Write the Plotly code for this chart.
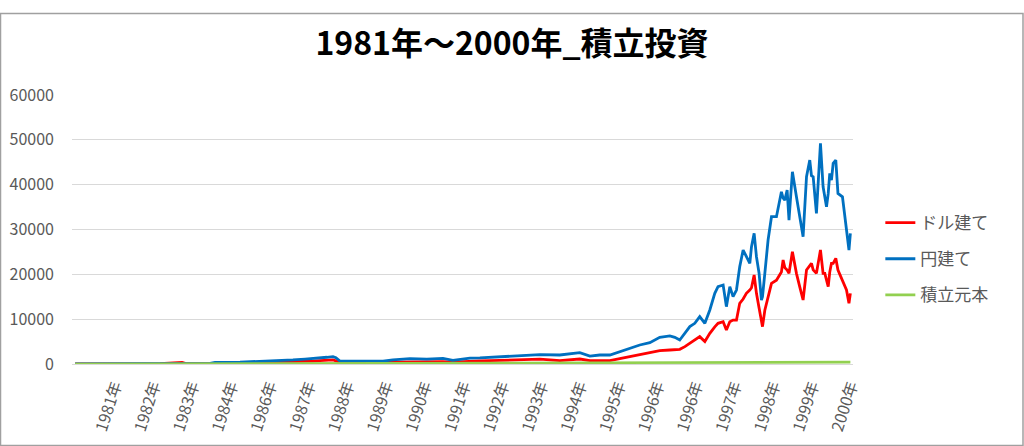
import plotly.graph_objects as go

# observation index (trading-day count) for the two valuation series
obs_idx = [0, 161, 355, 548, 690, 716, 871, 903, 1064, 1226, 1322, 1406, 1484, 1535, 1580,
           1625, 1664, 1683, 1709, 1838, 1987, 2051, 2161, 2270, 2374, 2438, 2548, 2612, 2741,
           2870, 2999, 3128, 3193, 3257, 3322, 3386, 3451, 3515, 3580, 3644, 3709, 3773, 3838,
           3870, 3902, 3935, 3967, 3999, 4031, 4064, 4096, 4128, 4149, 4182, 4203, 4225, 4246,
           4268, 4289, 4311, 4332, 4354, 4365, 4382, 4397, 4414, 4429, 4436, 4451, 4472, 4494,
           4526, 4558, 4569, 4580, 4595, 4607, 4629, 4655, 4676, 4698, 4720, 4741, 4752, 4763,
           4784, 4810, 4827, 4838, 4849, 4860, 4870, 4881, 4892, 4909, 4923, 4952, 4967, 4978,
           4994, 5003]

yen_values = [50, 60, 80, 100, 150, 120, 150, 380, 420, 650, 750, 900, 1100, 1200, 1350,
              1500, 1650, 1400, 650, 600, 620, 900, 1200, 1100, 1250, 800, 1300, 1350, 1600,
              1700, 2100, 2007, 2230, 2530, 1780, 2007, 2007, 2750, 3490, 4240, 4760, 5950, 6250,
              5950, 5350, 6840, 8330, 9070, 10560, 9070, 12050, 15760, 17250, 17620, 12790, 17250, 15020,
              16500, 21700, 25420, 23930, 22450, 26160, 29140, 23930, 20220, 14270, 15000, 20220, 27650, 32850,
              32850, 38420, 37000, 36560, 38790, 32100, 42880, 37300, 32850, 28400, 41760, 45480, 42000, 41760,
              33600, 49200, 39530, 37000, 35070, 38000, 42510, 41000, 44740, 45480, 38050, 37300, 32850, 29880,
              25420, 29140]

usd_values = [30, 40, 50, 60, 350, 80, 80, 150, 200, 300, 350, 450, 600, 650, 750,
              850, 900, 700, 400, 380, 400, 450, 550, 500, 550, 400, 650, 700, 800,
              900, 1100, 740, 890, 1110, 740, 740, 740, 1190, 1640, 2010, 2380, 2980, 3120,
              3120, 3270, 3870, 4610, 5350, 6100, 5000, 6840, 8300, 9070, 9440, 7580, 9440, 9800,
              9800, 13530, 14500, 15760, 16500, 17000, 19850, 15760, 12500, 9500, 8330, 12000, 15020, 17990,
              18700, 20500, 23190, 21500, 20960, 20220, 25050, 20220, 17250, 14270, 20960, 22000, 22450, 21000,
              20220, 25420, 20220, 20220, 18500, 17250, 20500, 22450, 22450, 23560, 20960, 18500, 17250, 16500,
              13530, 15760]

# principal (積立元本)
principal_idx = [0, 500, 1000, 1500, 2000, 2500, 3000, 3500, 4000, 4500, 5003]
principal_values = [10, 50, 90, 130, 170, 210, 250, 290, 330, 370, 410]

tick_labels = ["1981年", "1982年", "1983年", "1984年", "1986年", "1987年", "1988年", "1989年",
               "1990年", "1991年", "1992年", "1993年", "1994年", "1995年", "1996年", "1996年",
               "1997年", "1998年", "1999年", "2000年"]
tick_idx = [255 + 250 * k for k in range(len(tick_labels))]

FONT = "Noto Sans CJK JP"
GRAY = "#595959"

fig = go.Figure()
fig.add_trace(go.Scatter(x=obs_idx, y=usd_values, mode="lines", name="ドル建て", legendgroup="a",
                         line=dict(color="#ff0000", width=2.8)))
fig.add_trace(go.Scatter(x=obs_idx, y=yen_values, mode="lines", name="円建て", legendgroup="b",
                         line=dict(color="#0070c0", width=2.8)))
fig.add_trace(go.Scatter(x=principal_idx, y=principal_values, mode="lines", name="積立元本",
                         legendgroup="c", line=dict(color="#92d050", width=2.6)))

fig.update_layout(
    width=1024, height=446,
    margin=dict(l=72, r=171, t=95, b=82, autoexpand=False),
    paper_bgcolor="white", plot_bgcolor="white",
    font=dict(family=FONT, color=GRAY, size=15),
    title=dict(text="<b>1981年～2000年_積立投資</b>", x=0.5, xanchor="center",
               y=0.9015, yanchor="middle", yref="container",
               font=dict(family=FONT, size=32, color="#000000")),
    showlegend=True,
    legend=dict(x=1.035, xanchor="left", y=0.39, yanchor="middle",
                font=dict(family=FONT, size=17, color=GRAY),
                tracegroupgap=11, itemwidth=30, bgcolor="rgba(0,0,0,0)"),
    xaxis=dict(range=[-20, 5020], tickmode="array", tickvals=tick_idx, ticktext=tick_labels,
               tickangle=-72, showgrid=False, zeroline=False, showline=True, automargin=False,
               linecolor="#d9d9d9", linewidth=1, ticks="", ticklabelstandoff=5,
               tickfont=dict(family=FONT, size=16, color=GRAY)),
    yaxis=dict(range=[0, 60000], dtick=10000, tickformat="d", showgrid=True,
               gridcolor="#d9d9d9", gridwidth=1, automargin=False,
               zeroline=False, showline=False, ticks="", ticklabelstandoff=17,
               tickfont=dict(family=FONT, size=16, color=GRAY)),
    shapes=[dict(type="rect", xref="paper", yref="paper",
                 x0=-71.5 / 781, x1=(1023 - 72) / 781, y0=-81.5 / 269, y1=(446 - 95.5) / 269,
                 line=dict(color="#a0a0a0", width=1.5), layer="below")],
)

fig.write_html("out.html", config={"displayModeBar": False},
               post_script="document.body.style.margin='0';document.body.style.overflow='hidden';")
